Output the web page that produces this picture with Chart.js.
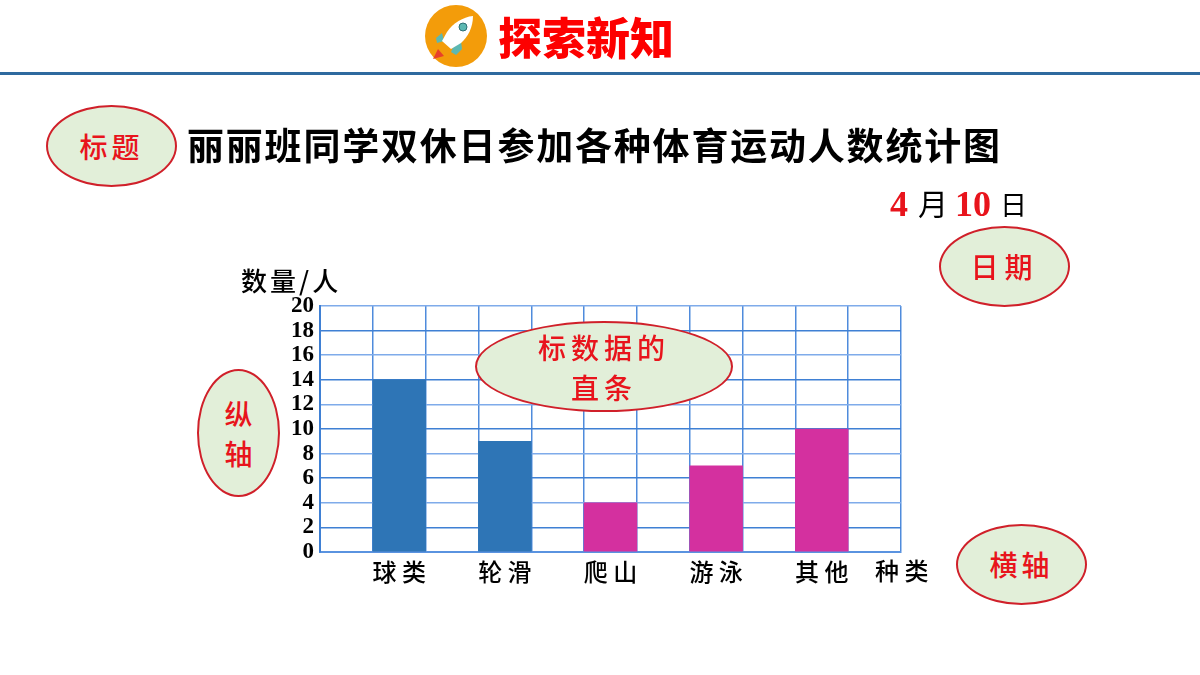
<!DOCTYPE html>
<html lang="zh"><head><meta charset="utf-8">
<script src="https://cdn.jsdelivr.net/npm/chart.js@4"></script>
<style>
html,body{margin:0;padding:0;background:#fff;width:1200px;height:675px;overflow:hidden}
#wrap{position:relative;width:1200px;height:675px;font-family:"Noto Sans CJK SC",sans-serif}
canvas{position:absolute;left:0;top:0}
.t{position:absolute;white-space:nowrap;line-height:1;color:#000}
.e{position:absolute;box-sizing:border-box;border:2px solid #d0202a;border-radius:50%;background:#e2efd9;color:#e8141c;display:flex;align-items:center;justify-content:center;text-align:center;font-weight:500;line-height:1.3}
</style></head><body>
<div id="wrap">
<canvas id="c" width="1200" height="675"></canvas>
<div style="position:absolute;left:0;top:72px;width:1200px;height:3px;background:#2f6a9f"></div>
<svg style="position:absolute;left:425px;top:5px" width="62" height="62" viewBox="0 0 62 62">
<circle cx="31" cy="31" r="31" fill="#f39c0a"/>
<path d="M13 44 L8 54 L19 51 Z" fill="#e8402a"/>
<path d="M17 28 L11 33 L12 38 L19 36 Z M29 40 L26 47 L31 50 L37 44 L36 36 Z" fill="#5cb8b2"/>
<path d="M48 11 C38 12 28 18 22 27 L17 36 L26 44 L36 38 C43 32 48 22 48 11 Z" fill="#fff"/>
<circle cx="38" cy="22" r="4" fill="#5cb8b2" stroke="#2e6f75" stroke-width="1"/>
</svg>
<div class="t" style="left:498px;top:14px;font-size:44px;font-weight:900;color:#fd0000">探索新知</div>
<div class="e" style="left:46px;top:105px;width:131px;height:82px;font-size:28px;letter-spacing:4px">标题</div>
<div class="t" style="left:187px;top:126px;font-size:37px;font-weight:700;letter-spacing:1.8px">丽丽班同学双休日参加各种体育运动人数统计图</div>
<div class="t" style="left:890px;top:186px;font-size:36px;font-weight:700;font-family:'Liberation Serif';color:#e8141c">4</div>
<div class="t" style="left:918px;top:187px;font-size:30px">月</div>
<div class="t" style="left:955px;top:186px;font-size:36px;font-weight:700;font-family:'Liberation Serif';color:#e8141c">10</div>
<div class="t" style="left:1000px;top:190px;font-size:27px">日</div>
<div class="e" style="left:939px;top:226px;width:131px;height:81px;font-size:28px;letter-spacing:6px">日期</div>
<div class="t" style="left:241px;top:267px;font-size:26px;font-weight:500;letter-spacing:3px">数量/人</div>
<div class="e" style="left:197px;top:369px;width:83px;height:128px;font-size:28px;line-height:40px">纵<br>轴</div>
<div class="e" style="left:475px;top:321px;width:258px;height:91px;font-size:28px;letter-spacing:5px;line-height:40px">标数据的<br>直条</div>
<div class="e" style="left:956px;top:524px;width:131px;height:81px;font-size:28px;letter-spacing:4px">横轴</div>
<div class="t" style="left:875px;top:558px;font-size:24px;font-weight:500">种 类</div>
</div>
<script>
const categories = ['', '球 类', '', '轮 滑', '', '爬 山', '', '游 泳', '', '其 他', ''];
const values = [null, 14, null, 9, null, 4, null, 7, null, 10, null];
const barColors = ['', '#2e75b6', '', '#2e75b6', '', '#d4309f', '', '#d4309f', '', '#d4309f', ''];
const yMax = 20;
const yStep = 2;
new Chart(document.getElementById('c'), {
  type: 'bar',
  data: { labels: categories, datasets: [{ data: values, backgroundColor: barColors, borderWidth: 0, barPercentage: 1, categoryPercentage: 1 }] },
  options: {
    responsive: false, animation: false,
    layout: { padding: { left: 260, right: 299, top: 306, bottom: 83 } },
    plugins: { legend: { display: false }, tooltip: { enabled: false } },
    scales: {
      x: {
        afterFit(s) { s.height = 40; },
        border: { color: '#5a93e0', width: 2 },
        grid: { offset: true, drawTicks: false, lineWidth: 1.5, color: '#4f8bdc' },
        ticks: { autoSkip: false, maxRotation: 0, minRotation: 0, padding: 5, color: '#000', font: { family: '"Noto Sans CJK SC"', size: 24, weight: '500' } }
      },
      y: {
        min: 0, max: yMax,
        afterFit(s) { s.width = 60; },
        border: { color: '#3f80d4', width: 2 },
        grid: { drawTicks: false, lineWidth: 1.5, color: c => c.index % 2 ? '#3f80d4' : '#7fabea' },
        ticks: { stepSize: yStep, autoSkip: false, padding: 6, color: '#000', font: { family: '"Liberation Serif"', size: 23, weight: 'bold' } }
      }
    }
  }
});
</script></body></html>
